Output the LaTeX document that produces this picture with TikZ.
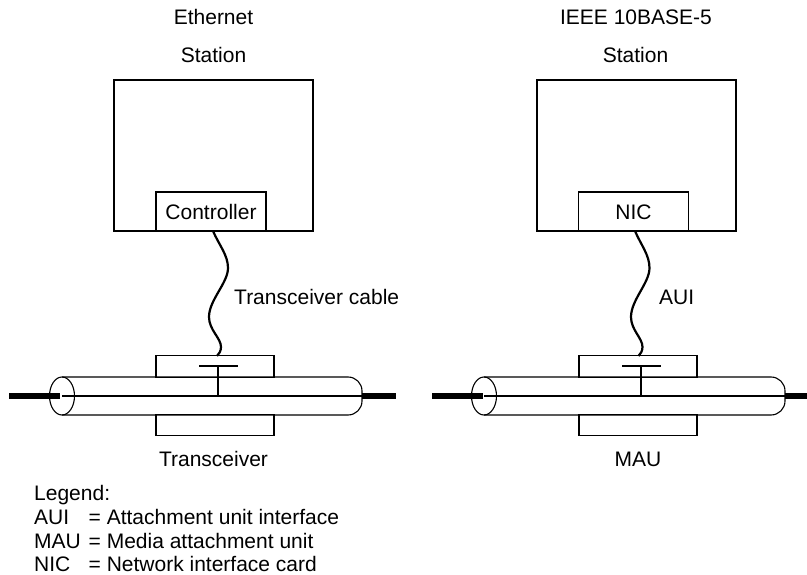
\documentclass[tikz,border=0pt]{standalone}
\usepackage{fontspec}
\setmainfont{Liberation Sans}
\usetikzlibrary{shapes}
\tikzstyle{lbl}=[inner sep=0pt,anchor=base,font=\fontsize{21}{24}\selectfont]
\tikzstyle{lleft}=[inner sep=0pt,anchor=base west,font=\fontsize{21}{24}\selectfont]
\tikzstyle{box}=[rectangle,draw=black,line width=1.1pt,inner sep=0pt,outer sep=0pt,
  font=\fontsize{21}{24}\selectfont]
\tikzstyle{tube}=[draw=black,line width=1.1pt,rounded corners=14pt]
\tikzstyle{tubeend}=[ellipse,draw=black,line width=1.1pt,inner sep=0pt,outer sep=0pt,
  minimum width=25pt,minimum height=38pt]
\tikzstyle{wire}=[line width=2.2pt]
\tikzstyle{coax}=[line width=6pt]
\tikzstyle{tap}=[line width=2.2pt]
\begin{document}
\begin{tikzpicture}[x=1pt,y=-1pt]
    \useasboundingbox (0,0) rectangle (807,575);
    % left side
    \node [style=lbl] (ethernet) at (213.5,25) {Ethernet};
    \node [style=lbl] (station) at (213.5,63) {Station};
    \node [style=box,minimum width=199pt,minimum height=151pt] (host) at (213.5,155.5) {};
    \node [style=box,minimum width=110pt,minimum height=39.6pt] (controller) at (211,211.8) {Controller};
    \node [style=box,minimum width=118pt,minimum height=21.6pt] (tcvrtop) at (215,366.7) {};
    \node [style=box,minimum width=118pt,minimum height=20.6pt] (tcvrbot) at (215,424.8) {};
    \draw [style=tube] (62,377) -- (362,377) -- (362,415) -- (62,415);
    \node [style=tubeend] (tubeL) at (62,396) {};
    \coordinate (tubeR) at (362,396);
    \draw [line width=1.1pt] (tubeL.center) -- (tubeR);
    \coordinate (coaxL) at (9,396);
    \coordinate (coaxR) at (396,396);
    \draw [style=coax] (coaxL) -- (60,396);
    \draw [style=coax] (tubeR) -- (coaxR);
    \coordinate (tapbase) at (218,396);
    \coordinate (tapmid) at (218,366);
    \coordinate (barL) at (199,366);
    \coordinate (barR) at (238,366);
    \draw [style=tap] (tapbase) -- (tapmid);
    \draw [style=tap] (barL) -- (barR);
    \coordinate (wireA) at (213,231);
    \coordinate (wireB) at (217,356);
    \draw [style=wire] (wireA) .. controls (219,245) and (228,255) .. (228,268)
      .. controls (228,283) and (209,300) .. (209,317)
      .. controls (209,330) and (221,338) .. (221,347)
      .. controls (221,351) and (219,354) .. (wireB);
    \node [style=lleft] (cablelbl) at (234,305) {Transceiver cable};
    \node [style=lbl] (tcvrlbl) at (213.5,466.7) {Transceiver};
    % right side
    \node [style=lbl] (ieee) at (636,25) {IEEE 10BASE-5};
    \node [style=lbl] (station2) at (635.5,63) {Station};
    \node [style=box,minimum width=199pt,minimum height=151pt] (host2) at (636.5,155.5) {};
    \node [style=box,minimum width=110pt,minimum height=39.6pt] (nic) at (633.5,211.8) {NIC};
    \node [style=box,minimum width=118pt,minimum height=21.6pt] (mautop) at (638,366.7) {};
    \node [style=box,minimum width=118pt,minimum height=20.6pt] (maubot) at (638,424.8) {};
    \draw [style=tube] (484,377) -- (785,377) -- (785,415) -- (484,415);
    \node [style=tubeend] (tubeL2) at (484,396) {};
    \coordinate (tubeR2) at (785,396);
    \draw [line width=1.1pt] (tubeL2.center) -- (tubeR2);
    \coordinate (coaxL2) at (432,396);
    \coordinate (coaxR2) at (807,396);
    \draw [style=coax] (coaxL2) -- (483,396);
    \draw [style=coax] (tubeR2) -- (coaxR2);
    \coordinate (tapbase2) at (641,396);
    \coordinate (tapmid2) at (641,366);
    \coordinate (barL2) at (622,366);
    \coordinate (barR2) at (661,366);
    \draw [style=tap] (tapbase2) -- (tapmid2);
    \draw [style=tap] (barL2) -- (barR2);
    \coordinate (wireA2) at (635,231);
    \coordinate (wireB2) at (638.5,356);
    \draw [style=wire] (wireA2) .. controls (641,245) and (649.5,255) .. (649.5,268)
      .. controls (649.5,283) and (631,300) .. (631,317)
      .. controls (631,330) and (642.5,338) .. (642.5,347)
      .. controls (642.5,351) and (640.5,354) .. (wireB2);
    \node [style=lleft] (auilbl) at (659,305) {AUI};
    \node [style=lbl] (maulbl) at (638,466.7) {MAU};
    % legend
    \node [style=lleft] (legend) at (34,500) {Legend:};
    \node [style=lleft] (legaui) at (34,524) {AUI};
    \node [style=lleft] (legmau) at (34,548) {MAU};
    \node [style=lleft] (legnic) at (34,571) {NIC};
    \node [style=lleft] (txtaui) at (88.5,524) {= Attachment unit interface};
    \node [style=lleft] (txtmau) at (88.5,548) {= Media attachment unit};
    \node [style=lleft] (txtnic) at (88.5,571) {= Network interface card};
\end{tikzpicture}
\end{document}
